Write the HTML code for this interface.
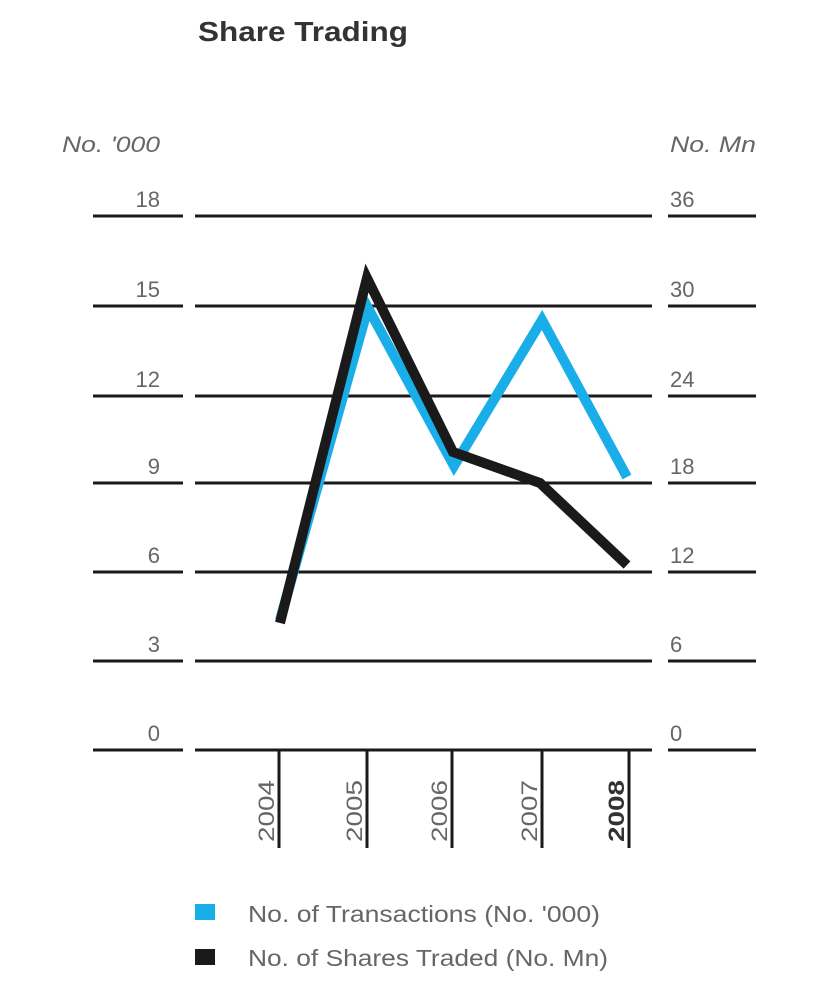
<!DOCTYPE html>
<html><head><meta charset="utf-8"><style>
html,body{margin:0;padding:0;background:#fff;}
svg{display:block;}
text{font-family:"Liberation Sans",sans-serif;}
</style></head><body>
<svg width="819" height="981" viewBox="0 0 819 981" xmlns="http://www.w3.org/2000/svg">
<text x="198" y="41" font-size="28" font-weight="bold" fill="#333" textLength="210" lengthAdjust="spacingAndGlyphs">Share Trading</text>
<text x="62" y="152" font-size="22" font-style="italic" fill="#666" textLength="98" lengthAdjust="spacingAndGlyphs">No. '000</text>
<text x="670" y="152" font-size="22" font-style="italic" fill="#666" textLength="86" lengthAdjust="spacingAndGlyphs">No. Mn</text>
<g stroke="#1a1a1a" stroke-width="3">
<line x1="93" x2="183" y1="216" y2="216"/><line x1="195" x2="652" y1="216" y2="216"/><line x1="668" x2="756" y1="216" y2="216"/>
<line x1="93" x2="183" y1="306" y2="306"/><line x1="195" x2="652" y1="306" y2="306"/><line x1="668" x2="756" y1="306" y2="306"/>
<line x1="93" x2="183" y1="396" y2="396"/><line x1="195" x2="652" y1="396" y2="396"/><line x1="668" x2="756" y1="396" y2="396"/>
<line x1="93" x2="183" y1="483" y2="483"/><line x1="195" x2="652" y1="483" y2="483"/><line x1="668" x2="756" y1="483" y2="483"/>
<line x1="93" x2="183" y1="572" y2="572"/><line x1="195" x2="652" y1="572" y2="572"/><line x1="668" x2="756" y1="572" y2="572"/>
<line x1="93" x2="183" y1="661" y2="661"/><line x1="195" x2="652" y1="661" y2="661"/><line x1="668" x2="756" y1="661" y2="661"/>
<line x1="93" x2="183" y1="750" y2="750"/><line x1="195" x2="652" y1="750" y2="750"/><line x1="668" x2="756" y1="750" y2="750"/>
<line x1="279" x2="279" y1="750" y2="848"/><line x1="367" x2="367" y1="750" y2="848"/><line x1="452" x2="452" y1="750" y2="848"/><line x1="542" x2="542" y1="750" y2="848"/><line x1="629" x2="629" y1="750" y2="848"/>
</g>
<g font-size="22" fill="#666" text-anchor="end">
<text x="160" y="207">18</text><text x="160" y="297">15</text><text x="160" y="387">12</text><text x="160" y="474">9</text><text x="160" y="563">6</text><text x="160" y="652">3</text><text x="160" y="741">0</text>
</g>
<g font-size="22" fill="#666">
<text x="670" y="207">36</text><text x="670" y="297">30</text><text x="670" y="387">24</text><text x="670" y="474">18</text><text x="670" y="563">12</text><text x="670" y="652">6</text><text x="670" y="741">0</text>
</g>
<g font-size="22" fill="#666">
<text transform="translate(274,842) rotate(-90)" textLength="62" lengthAdjust="spacingAndGlyphs">2004</text>
<text transform="translate(362,842) rotate(-90)" textLength="62" lengthAdjust="spacingAndGlyphs">2005</text>
<text transform="translate(447,842) rotate(-90)" textLength="62" lengthAdjust="spacingAndGlyphs">2006</text>
<text transform="translate(537,842) rotate(-90)" textLength="62" lengthAdjust="spacingAndGlyphs">2007</text>
<text transform="translate(624,842) rotate(-90)" font-weight="bold" fill="#333" textLength="62" lengthAdjust="spacingAndGlyphs">2008</text>
</g>
<polyline points="280,620 368,308 454,466 542,320 627,477" fill="none" stroke="#1aaee8" stroke-width="10" stroke-linejoin="miter"/>
<polyline points="280,623 367,278 453,452 540,483 627,565" fill="none" stroke="#1a1a1a" stroke-width="10" stroke-linejoin="miter"/>
<rect x="195" y="904" width="20" height="16" fill="#1aaee8"/>
<rect x="195" y="949" width="20" height="16" fill="#1a1a1a"/>
<text x="248" y="922" font-size="23" fill="#666" textLength="352" lengthAdjust="spacingAndGlyphs">No. of Transactions (No. '000)</text>
<text x="248" y="966" font-size="23" fill="#666" textLength="360" lengthAdjust="spacingAndGlyphs">No. of Shares Traded (No. Mn)</text>
</svg>
</body></html>
